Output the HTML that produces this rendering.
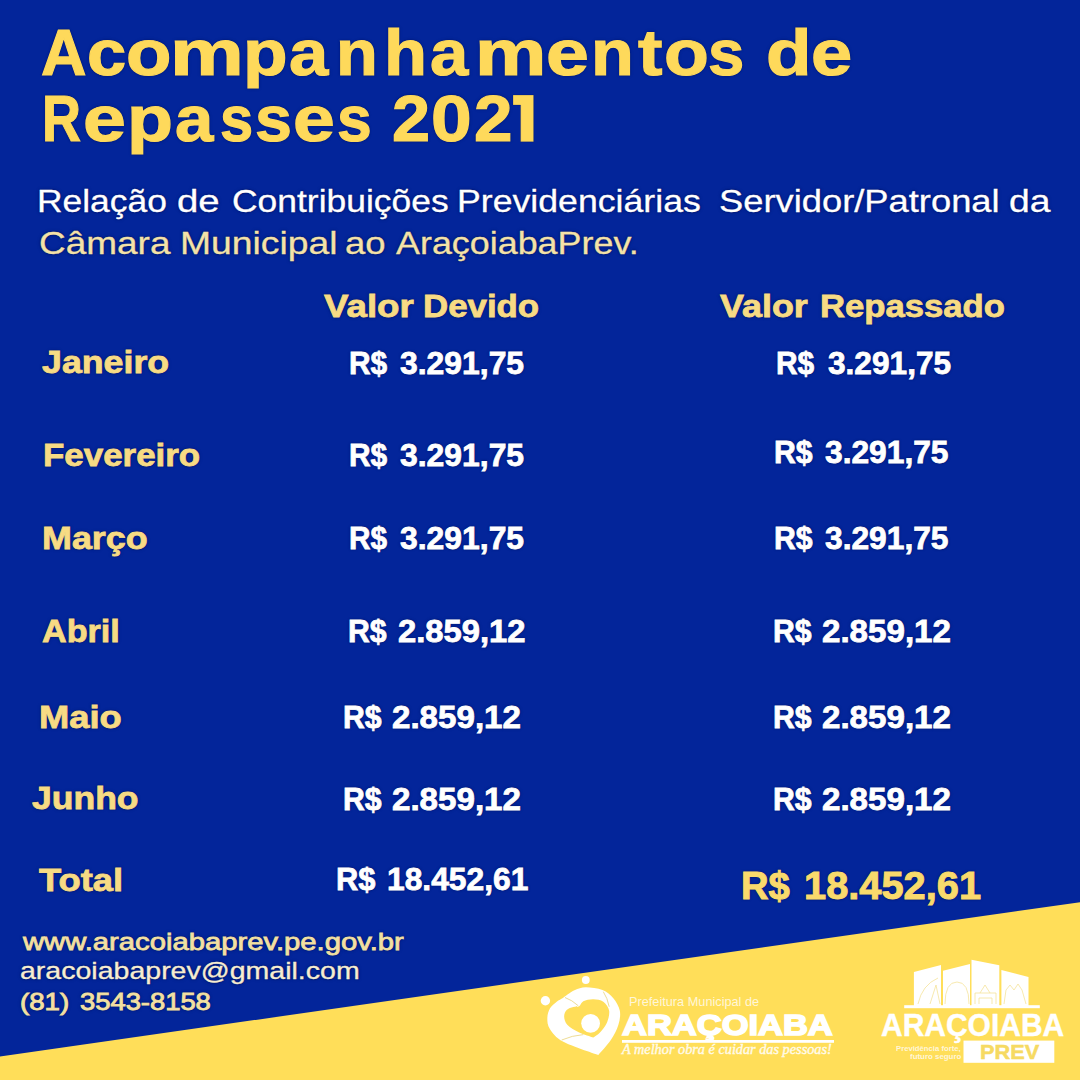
<!DOCTYPE html>
<html><head><meta charset="utf-8"><style>
html,body{margin:0;padding:0;background:#03259A}
body{width:1080px;height:1080px;background:#03259A;position:relative;overflow:hidden;font-family:"Liberation Sans",sans-serif}
.t{position:absolute;white-space:nowrap;font-family:"Liberation Sans",sans-serif;transform-origin:0 0;text-shadow:0 0 1.5px rgba(0,10,70,0.8),0 0 3px rgba(0,10,70,0.5)}
svg{position:absolute;left:0;top:0}
</style></head><body>
<svg width="1080" height="1080" viewBox="0 0 1080 1080"><polygon points="0,1056.4 1080,902.2 1080,1080 0,1080" fill="#FFDE59"/></svg>
<svg width="1080" height="1080" viewBox="0 0 1080 1080"><polygon points="513,95 533.6,95 533.6,141.8 520.6,141.8 520.6,105 513,105" fill="#FED95B" stroke="rgba(0,10,70,0.35)" stroke-width="0.6"/></svg>
<svg width="1080" height="1080" viewBox="0 0 1080 1080">
<g fill="#FFFFFF">
<circle cx="585.8" cy="980" r="3.9"/>
<circle cx="545.4" cy="1000.8" r="4.7"/>
<path d="M598.33,1055.00 C592.50,1052.78 571.39,1045.97 563.33,1041.67 C555.28,1037.36 552.67,1033.06 550.00,1029.17 C547.33,1025.28 547.33,1021.81 547.33,1018.33 C547.33,1014.86 548.44,1011.11 550.00,1008.33 C551.56,1005.56 554.51,1003.40 556.67,1001.67 C558.82,999.93 561.11,999.10 562.92,997.92 C564.72,996.74 565.49,995.90 567.50,994.58 C569.51,993.26 571.94,991.21 575.00,990.00 C578.06,988.79 581.25,987.33 585.83,987.33 C590.42,987.33 597.92,988.17 602.50,990.00 C607.08,991.83 610.44,994.86 613.33,998.33 C616.22,1001.81 619.00,1006.39 619.83,1010.83 C620.67,1015.28 619.83,1020.14 618.33,1025.00 C616.83,1029.86 614.17,1035.00 610.83,1040.00 C607.50,1045.00 600.42,1052.50 598.33,1055.00 Z"/>
</g>
<path fill="#FFDE59" d="M593.33,1037.50 C590.97,1036.67 583.47,1034.58 579.17,1032.50 C574.86,1030.42 570.00,1027.64 567.50,1025.00 C565.00,1022.36 564.31,1019.17 564.17,1016.67 C564.03,1014.17 565.14,1011.60 566.67,1010.00 C568.19,1008.40 571.25,1007.71 573.33,1007.08 C575.42,1006.46 577.50,1007.22 579.17,1006.25 C580.83,1005.28 580.97,1002.43 583.33,1001.25 C585.69,1000.07 590.00,999.10 593.33,999.17 C596.67,999.24 600.69,999.72 603.33,1001.67 C605.97,1003.61 608.61,1007.22 609.17,1010.83 C609.72,1014.44 608.19,1019.72 606.67,1023.33 C605.14,1026.94 602.22,1030.14 600.00,1032.50 C597.78,1034.86 594.44,1036.67 593.33,1037.50 Z"/>
<circle cx="590.6" cy="1023.3" r="9.4" fill="#FFFFFF"/>
<g fill="none" stroke="#EBD88A" stroke-width="0.9">
<path d="M565,997.5 Q572,1000 578.3,1005.8"/>
<path d="M561.7,1040 Q572,1035.5 583.3,1034.6"/>
<path d="M603.3,991.7 Q607.5,998 609.2,1006.7"/>
</g>
<rect x="622" y="1040" width="212" height="2.8" fill="#FFFFFF"/>
</svg>
<svg width="1080" height="1080" viewBox="0 0 1080 1080">
<g fill="#FFFFFF">
<polygon points="913.9,972 941,965 941,1006 913.9,1006"/>
<polygon points="943,970.8 970,963.9 970,1006 943,1006"/>
<polygon points="971.5,959.7 999.3,965.3 999.3,1006 971.5,1006"/>
<polygon points="1001.4,970 1028.5,977 1028.5,1006 1001.4,1006"/>
<rect x="904.2" y="1005.2" width="135.6" height="3" />
<rect x="963.5" y="1040.6" width="90.8" height="22.2"/>
</g>
<g fill="none" stroke="#F5E39A" stroke-width="0.8">
<path d="M918,1004 Q922,985 938,978"/>
<path d="M930,1004 L936,985 L940,1004"/>
<path d="M945,1004 Q945,982 957,982 Q969,982 969,1004"/>
<path d="M975,1004 L975,993 L996,993 L996,1004 M979,1004 L979,998 L992,998 L992,1004 M980,993 L985,985 L990,993"/>
<path d="M1004,1004 L1006,990 L1010,985 L1014,990 L1018,984 L1022,990 L1026,1004"/>
</g>
</svg>

<div class="t" id="t1_0" style="left:40.53px;top:19.96px;font-size:65.60px;line-height:65.60px;font-weight:700;color:#FED95B;transform:scaleX(0.9601);-webkit-text-stroke:1.2px #FED95B;">A</div>
<div class="t" id="t1_1" style="left:86.85px;top:19.96px;font-size:65.60px;line-height:65.60px;font-weight:700;color:#FED95B;transform:scaleX(1.0730);-webkit-text-stroke:1.2px #FED95B;">c</div>
<div class="t" id="t1_2" style="left:126.18px;top:19.96px;font-size:65.60px;line-height:65.60px;font-weight:700;color:#FED95B;transform:scaleX(1.1337);-webkit-text-stroke:1.2px #FED95B;">o</div>
<div class="t" id="t1_3" style="left:169.56px;top:19.96px;font-size:65.60px;line-height:65.60px;font-weight:700;color:#FED95B;transform:scaleX(1.2660);-webkit-text-stroke:1.2px #FED95B;">m</div>
<div class="t" id="t1_4" style="left:243.06px;top:19.96px;font-size:65.60px;line-height:65.60px;font-weight:700;color:#FED95B;transform:scaleX(1.1122);-webkit-text-stroke:1.2px #FED95B;">p</div>
<div class="t" id="t1_5" style="left:289.42px;top:19.96px;font-size:65.60px;line-height:65.60px;font-weight:700;color:#FED95B;transform:scaleX(1.0759);-webkit-text-stroke:1.2px #FED95B;">a</div>
<div class="t" id="t1_6" style="left:335.82px;top:19.96px;font-size:65.60px;line-height:65.60px;font-weight:700;color:#FED95B;transform:scaleX(1.0427);-webkit-text-stroke:1.2px #FED95B;">n</div>
<div class="t" id="t1_7" style="left:384.17px;top:19.96px;font-size:65.60px;line-height:65.60px;font-weight:700;color:#FED95B;transform:scaleX(1.0730);-webkit-text-stroke:1.2px #FED95B;">h</div>
<div class="t" id="t1_8" style="left:429.97px;top:19.96px;font-size:65.60px;line-height:65.60px;font-weight:700;color:#FED95B;transform:scaleX(1.0489);-webkit-text-stroke:1.2px #FED95B;">a</div>
<div class="t" id="t1_9" style="left:474.61px;top:19.96px;font-size:65.60px;line-height:65.60px;font-weight:700;color:#FED95B;transform:scaleX(1.2237);-webkit-text-stroke:1.2px #FED95B;">m</div>
<div class="t" id="t1_10" style="left:546.20px;top:19.96px;font-size:65.60px;line-height:65.60px;font-weight:700;color:#FED95B;transform:scaleX(1.1760);-webkit-text-stroke:1.2px #FED95B;">e</div>
<div class="t" id="t1_11" style="left:590.73px;top:19.96px;font-size:65.60px;line-height:65.60px;font-weight:700;color:#FED95B;transform:scaleX(1.0671);-webkit-text-stroke:1.2px #FED95B;">n</div>
<div class="t" id="t1_12" style="left:637.96px;top:19.96px;font-size:65.60px;line-height:65.60px;font-weight:700;color:#FED95B;transform:scaleX(1.1189);-webkit-text-stroke:1.2px #FED95B;">t</div>
<div class="t" id="t1_13" style="left:663.84px;top:19.96px;font-size:65.60px;line-height:65.60px;font-weight:700;color:#FED95B;transform:scaleX(1.1196);-webkit-text-stroke:1.2px #FED95B;">o</div>
<div class="t" id="t1_14" style="left:708.01px;top:19.96px;font-size:65.60px;line-height:65.60px;font-weight:700;color:#FED95B;transform:scaleX(0.9942);-webkit-text-stroke:1.2px #FED95B;">s</div>
<div class="t" id="t1_15" style="left:765.69px;top:19.96px;font-size:65.60px;line-height:65.60px;font-weight:700;color:#FED95B;transform:scaleX(1.1361);-webkit-text-stroke:1.2px #FED95B;">d</div>
<div class="t" id="t1_16" style="left:811.28px;top:19.96px;font-size:65.60px;line-height:65.60px;font-weight:700;color:#FED95B;transform:scaleX(1.1275);-webkit-text-stroke:1.2px #FED95B;">e</div>
<div class="t" id="t2_0" style="left:41.67px;top:86.06px;font-size:65.60px;line-height:65.60px;font-weight:700;color:#FED95B;transform:scaleX(0.8235);-webkit-text-stroke:1.2px #FED95B;">R</div>
<div class="t" id="t2_1" style="left:83.13px;top:86.06px;font-size:65.60px;line-height:65.60px;font-weight:700;color:#FED95B;transform:scaleX(1.1760);-webkit-text-stroke:1.2px #FED95B;">e</div>
<div class="t" id="t2_2" style="left:127.01px;top:86.06px;font-size:65.60px;line-height:65.60px;font-weight:700;color:#FED95B;transform:scaleX(1.1489);-webkit-text-stroke:1.2px #FED95B;">p</div>
<div class="t" id="t2_3" style="left:174.92px;top:86.06px;font-size:65.60px;line-height:65.60px;font-weight:700;color:#FED95B;transform:scaleX(1.0504);-webkit-text-stroke:1.2px #FED95B;">a</div>
<div class="t" id="t2_4" style="left:220.15px;top:86.06px;font-size:65.60px;line-height:65.60px;font-weight:700;color:#FED95B;transform:scaleX(0.9096);-webkit-text-stroke:1.2px #FED95B;">s</div>
<div class="t" id="t2_5" style="left:255.47px;top:86.06px;font-size:65.60px;line-height:65.60px;font-weight:700;color:#FED95B;transform:scaleX(1.0128);-webkit-text-stroke:1.2px #FED95B;">s</div>
<div class="t" id="t2_6" style="left:292.71px;top:86.06px;font-size:65.60px;line-height:65.60px;font-weight:700;color:#FED95B;transform:scaleX(1.1457);-webkit-text-stroke:1.2px #FED95B;">e</div>
<div class="t" id="t2_7" style="left:337.06px;top:86.06px;font-size:65.60px;line-height:65.60px;font-weight:700;color:#FED95B;transform:scaleX(0.9519);-webkit-text-stroke:1.2px #FED95B;">s</div>
<div class="t" id="t2_8" style="left:391.92px;top:86.06px;font-size:65.60px;line-height:65.60px;font-weight:700;color:#FED95B;transform:scaleX(1.0425);-webkit-text-stroke:1.2px #FED95B;">2</div>
<div class="t" id="t2_9" style="left:431.31px;top:86.06px;font-size:65.60px;line-height:65.60px;font-weight:700;color:#FED95B;transform:scaleX(1.1154);-webkit-text-stroke:1.2px #FED95B;">0</div>
<div class="t" id="t2_10" style="left:473.92px;top:86.06px;font-size:65.60px;line-height:65.60px;font-weight:700;color:#FED95B;transform:scaleX(1.0548);-webkit-text-stroke:1.2px #FED95B;">2</div>
<div class="t" id="s1_0" style="left:37.22px;top:185.87px;font-size:31.80px;line-height:31.80px;font-weight:400;color:#FFFFFF;transform:scaleX(1.1133);-webkit-text-stroke:0.3px #FFFFFF;">Relação</div>
<div class="t" id="s1_1" style="left:177.36px;top:185.87px;font-size:31.80px;line-height:31.80px;font-weight:400;color:#FFFFFF;transform:scaleX(1.2066);-webkit-text-stroke:0.3px #FFFFFF;">de</div>
<div class="t" id="s1_2" style="left:232.30px;top:185.87px;font-size:31.80px;line-height:31.80px;font-weight:400;color:#FFFFFF;transform:scaleX(1.1146);-webkit-text-stroke:0.3px #FFFFFF;">Contribuições</div>
<div class="t" id="s1_3" style="left:456.76px;top:185.87px;font-size:31.80px;line-height:31.80px;font-weight:400;color:#FFFFFF;transform:scaleX(1.1215);-webkit-text-stroke:0.3px #FFFFFF;">Previdenciárias</div>
<div class="t" id="s1_4" style="left:719.32px;top:185.87px;font-size:31.80px;line-height:31.80px;font-weight:400;color:#FFFFFF;transform:scaleX(1.1422);-webkit-text-stroke:0.3px #FFFFFF;">Servidor/Patronal</div>
<div class="t" id="s1_5" style="left:1008.83px;top:185.87px;font-size:31.80px;line-height:31.80px;font-weight:400;color:#FFFFFF;transform:scaleX(1.1714);-webkit-text-stroke:0.3px #FFFFFF;">da</div>
<div class="t" id="s2_0" style="left:38.74px;top:227.67px;font-size:31.80px;line-height:31.80px;font-weight:400;color:#F4E2A8;transform:scaleX(1.1625);-webkit-text-stroke:0.3px #F4E2A8;">Câmara</div>
<div class="t" id="s2_1" style="left:179.58px;top:227.67px;font-size:31.80px;line-height:31.80px;font-weight:400;color:#F4E2A8;transform:scaleX(1.1723);-webkit-text-stroke:0.3px #F4E2A8;">Municipal</div>
<div class="t" id="s2_2" style="left:345.38px;top:227.67px;font-size:31.80px;line-height:31.80px;font-weight:400;color:#F4E2A8;transform:scaleX(1.1474);-webkit-text-stroke:0.3px #F4E2A8;">ao</div>
<div class="t" id="s2_3" style="left:396.46px;top:227.67px;font-size:31.80px;line-height:31.80px;font-weight:400;color:#F4E2A8;transform:scaleX(1.1283);-webkit-text-stroke:0.3px #F4E2A8;">AraçoiabaPrev.</div>
<div class="t" id="h1_0" style="left:323.55px;top:291.05px;font-size:31.00px;line-height:31.00px;font-weight:700;color:#F7DB84;transform:scaleX(1.1843);-webkit-text-stroke:0.8px #F7DB84;">Valor</div>
<div class="t" id="h1_1" style="left:422.87px;top:291.05px;font-size:31.00px;line-height:31.00px;font-weight:700;color:#F7DB84;transform:scaleX(1.1236);-webkit-text-stroke:0.8px #F7DB84;">Devido</div>
<div class="t" id="h2_0" style="left:720.45px;top:291.05px;font-size:31.00px;line-height:31.00px;font-weight:700;color:#F7DB84;transform:scaleX(1.1580);-webkit-text-stroke:0.8px #F7DB84;">Valor</div>
<div class="t" id="h2_1" style="left:819.79px;top:291.05px;font-size:31.00px;line-height:31.00px;font-weight:700;color:#F7DB84;transform:scaleX(1.1178);-webkit-text-stroke:0.8px #F7DB84;">Repassado</div>
<div class="t" id="m1" style="left:41.54px;top:347.25px;font-size:31.00px;line-height:31.00px;font-weight:700;color:#F7DB84;transform:scaleX(1.1528);-webkit-text-stroke:0.8px #F7DB84;">Janeiro</div>
<div class="t" id="m2" style="left:42.85px;top:440.25px;font-size:31.00px;line-height:31.00px;font-weight:700;color:#F7DB84;transform:scaleX(1.1261);-webkit-text-stroke:0.8px #F7DB84;">Fevereiro</div>
<div class="t" id="m3" style="left:42.31px;top:522.65px;font-size:31.00px;line-height:31.00px;font-weight:700;color:#F7DB84;transform:scaleX(1.1580);-webkit-text-stroke:0.8px #F7DB84;">Março</div>
<div class="t" id="m4" style="left:42.00px;top:616.35px;font-size:31.00px;line-height:31.00px;font-weight:700;color:#F7DB84;transform:scaleX(1.1015);-webkit-text-stroke:0.8px #F7DB84;">Abril</div>
<div class="t" id="m5" style="left:39.23px;top:701.55px;font-size:31.00px;line-height:31.00px;font-weight:700;color:#F7DB84;transform:scaleX(1.1712);-webkit-text-stroke:0.8px #F7DB84;">Maio</div>
<div class="t" id="m6" style="left:32.00px;top:782.95px;font-size:31.00px;line-height:31.00px;font-weight:700;color:#F7DB84;transform:scaleX(1.1457);-webkit-text-stroke:0.8px #F7DB84;">Junho</div>
<div class="t" id="m7" style="left:39.07px;top:864.75px;font-size:31.00px;line-height:31.00px;font-weight:700;color:#F7DB84;transform:scaleX(1.1719);-webkit-text-stroke:0.8px #F7DB84;">Total</div>
<div class="t" id="a1_0" style="left:348.55px;top:347.65px;font-size:31.00px;line-height:31.00px;font-weight:700;color:#FFFFFF;transform:scaleX(0.9641);-webkit-text-stroke:0.8px #FFFFFF;">R$</div>
<div class="t" id="a1_1" style="left:399.97px;top:347.65px;font-size:31.00px;line-height:31.00px;font-weight:700;color:#FFFFFF;transform:scaleX(1.0284);-webkit-text-stroke:0.8px #FFFFFF;">3.291,75</div>
<div class="t" id="a2_0" style="left:348.55px;top:440.25px;font-size:31.00px;line-height:31.00px;font-weight:700;color:#FFFFFF;transform:scaleX(0.9641);-webkit-text-stroke:0.8px #FFFFFF;">R$</div>
<div class="t" id="a2_1" style="left:399.97px;top:440.25px;font-size:31.00px;line-height:31.00px;font-weight:700;color:#FFFFFF;transform:scaleX(1.0284);-webkit-text-stroke:0.8px #FFFFFF;">3.291,75</div>
<div class="t" id="a3_0" style="left:349.06px;top:522.65px;font-size:31.00px;line-height:31.00px;font-weight:700;color:#FFFFFF;transform:scaleX(0.9592);-webkit-text-stroke:0.8px #FFFFFF;">R$</div>
<div class="t" id="a3_1" style="left:399.97px;top:522.65px;font-size:31.00px;line-height:31.00px;font-weight:700;color:#FFFFFF;transform:scaleX(1.0284);-webkit-text-stroke:0.8px #FFFFFF;">3.291,75</div>
<div class="t" id="a4_0" style="left:347.54px;top:615.95px;font-size:31.00px;line-height:31.00px;font-weight:700;color:#FFFFFF;transform:scaleX(0.9744);-webkit-text-stroke:0.8px #FFFFFF;">R$</div>
<div class="t" id="a4_1" style="left:398.46px;top:615.95px;font-size:31.00px;line-height:31.00px;font-weight:700;color:#FFFFFF;transform:scaleX(1.0572);-webkit-text-stroke:0.8px #FFFFFF;">2.859,12</div>
<div class="t" id="a5_0" style="left:342.53px;top:702.05px;font-size:31.00px;line-height:31.00px;font-weight:700;color:#FFFFFF;transform:scaleX(0.9744);-webkit-text-stroke:0.8px #FFFFFF;">R$</div>
<div class="t" id="a5_1" style="left:392.48px;top:702.05px;font-size:31.00px;line-height:31.00px;font-weight:700;color:#FFFFFF;transform:scaleX(1.0684);-webkit-text-stroke:0.8px #FFFFFF;">2.859,12</div>
<div class="t" id="a6_0" style="left:342.53px;top:783.55px;font-size:31.00px;line-height:31.00px;font-weight:700;color:#FFFFFF;transform:scaleX(0.9744);-webkit-text-stroke:0.8px #FFFFFF;">R$</div>
<div class="t" id="a6_1" style="left:392.48px;top:783.55px;font-size:31.00px;line-height:31.00px;font-weight:700;color:#FFFFFF;transform:scaleX(1.0684);-webkit-text-stroke:0.8px #FFFFFF;">2.859,12</div>
<div class="t" id="a7_0" style="left:335.50px;top:864.35px;font-size:31.00px;line-height:31.00px;font-weight:700;color:#FFFFFF;transform:scaleX(0.9951);-webkit-text-stroke:0.8px #FFFFFF;">R$</div>
<div class="t" id="a7_1" style="left:386.95px;top:864.35px;font-size:31.00px;line-height:31.00px;font-weight:700;color:#FFFFFF;transform:scaleX(1.0250);-webkit-text-stroke:0.8px #FFFFFF;">18.452,61</div>
<div class="t" id="b1_0" style="left:775.54px;top:347.65px;font-size:31.00px;line-height:31.00px;font-weight:700;color:#FFFFFF;transform:scaleX(0.9641);-webkit-text-stroke:0.8px #FFFFFF;">R$</div>
<div class="t" id="b1_1" style="left:827.99px;top:347.65px;font-size:31.00px;line-height:31.00px;font-weight:700;color:#FFFFFF;transform:scaleX(1.0200);-webkit-text-stroke:0.8px #FFFFFF;">3.291,75</div>
<div class="t" id="b2_0" style="left:774.03px;top:437.25px;font-size:31.00px;line-height:31.00px;font-weight:700;color:#FFFFFF;transform:scaleX(0.9744);-webkit-text-stroke:0.8px #FFFFFF;">R$</div>
<div class="t" id="b2_1" style="left:825.49px;top:437.25px;font-size:31.00px;line-height:31.00px;font-weight:700;color:#FFFFFF;transform:scaleX(1.0234);-webkit-text-stroke:0.8px #FFFFFF;">3.291,75</div>
<div class="t" id="b3_0" style="left:774.03px;top:522.65px;font-size:31.00px;line-height:31.00px;font-weight:700;color:#FFFFFF;transform:scaleX(0.9744);-webkit-text-stroke:0.8px #FFFFFF;">R$</div>
<div class="t" id="b3_1" style="left:825.49px;top:522.65px;font-size:31.00px;line-height:31.00px;font-weight:700;color:#FFFFFF;transform:scaleX(1.0234);-webkit-text-stroke:0.8px #FFFFFF;">3.291,75</div>
<div class="t" id="b4_0" style="left:772.53px;top:616.35px;font-size:31.00px;line-height:31.00px;font-weight:700;color:#FFFFFF;transform:scaleX(0.9744);-webkit-text-stroke:0.8px #FFFFFF;">R$</div>
<div class="t" id="b4_1" style="left:822.48px;top:616.35px;font-size:31.00px;line-height:31.00px;font-weight:700;color:#FFFFFF;transform:scaleX(1.0684);-webkit-text-stroke:0.8px #FFFFFF;">2.859,12</div>
<div class="t" id="b5_0" style="left:772.53px;top:702.05px;font-size:31.00px;line-height:31.00px;font-weight:700;color:#FFFFFF;transform:scaleX(0.9744);-webkit-text-stroke:0.8px #FFFFFF;">R$</div>
<div class="t" id="b5_1" style="left:822.48px;top:702.05px;font-size:31.00px;line-height:31.00px;font-weight:700;color:#FFFFFF;transform:scaleX(1.0684);-webkit-text-stroke:0.8px #FFFFFF;">2.859,12</div>
<div class="t" id="b6_0" style="left:772.53px;top:783.55px;font-size:31.00px;line-height:31.00px;font-weight:700;color:#FFFFFF;transform:scaleX(0.9744);-webkit-text-stroke:0.8px #FFFFFF;">R$</div>
<div class="t" id="b6_1" style="left:822.48px;top:783.55px;font-size:31.00px;line-height:31.00px;font-weight:700;color:#FFFFFF;transform:scaleX(1.0684);-webkit-text-stroke:0.8px #FFFFFF;">2.859,12</div>
<div class="t" id="b7_0" style="left:741.03px;top:865.62px;font-size:39.30px;line-height:39.30px;font-weight:700;color:#F9DA6C;transform:scaleX(0.9716);-webkit-text-stroke:1.0px #F9DA6C;">R$</div>
<div class="t" id="b7_1" style="left:803.98px;top:865.62px;font-size:39.30px;line-height:39.30px;font-weight:700;color:#F9DA6C;transform:scaleX(1.0127);-webkit-text-stroke:1.0px #F9DA6C;">18.452,61</div>
<div class="t" id="f1" style="left:22.60px;top:930.26px;font-size:24.50px;line-height:24.50px;font-weight:400;color:#F3E0A2;transform:scaleX(1.1931);-webkit-text-stroke:0.8px #F3E0A2;">www.aracoiabaprev.pe.gov.br</div>
<div class="t" id="f2" style="left:20.42px;top:958.86px;font-size:24.50px;line-height:24.50px;font-weight:400;color:#F6EDD2;transform:scaleX(1.1641);-webkit-text-stroke:0.35px #F6EDD2;">aracoiabaprev@gmail.com</div>
<div class="t" id="f3_0" style="left:20.43px;top:990.13px;font-size:24.30px;line-height:24.30px;font-weight:400;color:#F3E0A2;transform:scaleX(1.1382);-webkit-text-stroke:0.9px #F3E0A2;">(81)</div>
<div class="t" id="f3_1" style="left:79.97px;top:990.13px;font-size:24.30px;line-height:24.30px;font-weight:400;color:#F3E0A2;transform:scaleX(1.1259);-webkit-text-stroke:0.9px #F3E0A2;">3543-8158</div>
<div class="t" id="L1" style="left:629.02px;top:995.19px;font-size:13.00px;line-height:13.00px;font-weight:400;color:#FFF6D8;transform:scaleX(0.9788);text-shadow:none;">Prefeitura Municipal de</div>
<div class="t" id="L2" style="left:622.00px;top:1009.62px;font-size:29.50px;line-height:29.50px;font-weight:700;color:#FFFFFF;transform:scaleX(1.1691);-webkit-text-stroke:1.6px #FFFFFF;text-shadow:none;">ARAÇOIABA</div>
<div class="t" id="L3" style="left:621.95px;top:1042.30px;font-size:15.00px;line-height:15.00px;font-weight:400;color:#FFFBEA;transform:scaleX(0.9511);font-style:italic;font-family:'Liberation Serif',serif;-webkit-text-stroke:0.4px #FFFBEA;text-shadow:none;">A melhor obra é cuidar das pessoas!</div>
<div class="t" id="R1" style="left:881.03px;top:1009.24px;font-size:32.20px;line-height:32.20px;font-weight:700;color:#FFFFFF;transform:scaleX(0.9313);-webkit-text-stroke:0.4px #FFFFFF;text-shadow:none;">ARAÇOIABA</div>
<div class="t" id="R2" style="left:979.96px;top:1041.60px;font-size:20.20px;line-height:20.20px;font-weight:700;color:#F6DA62;transform:scaleX(1.0765);-webkit-text-stroke:0.5px #F6DA62;text-shadow:none;">PREV</div>
<div class="t" id="R3" style="left:896.44px;top:1045.40px;font-size:7.20px;line-height:7.20px;font-weight:700;color:#FFF6D8;transform:scaleX(1.0717);text-shadow:none;">Previdência forte,</div>
<div class="t" id="R4" style="left:910.03px;top:1053.40px;font-size:7.20px;line-height:7.20px;font-weight:700;color:#FFF6D8;transform:scaleX(1.0982);text-shadow:none;">futuro seguro</div>
</body></html>
